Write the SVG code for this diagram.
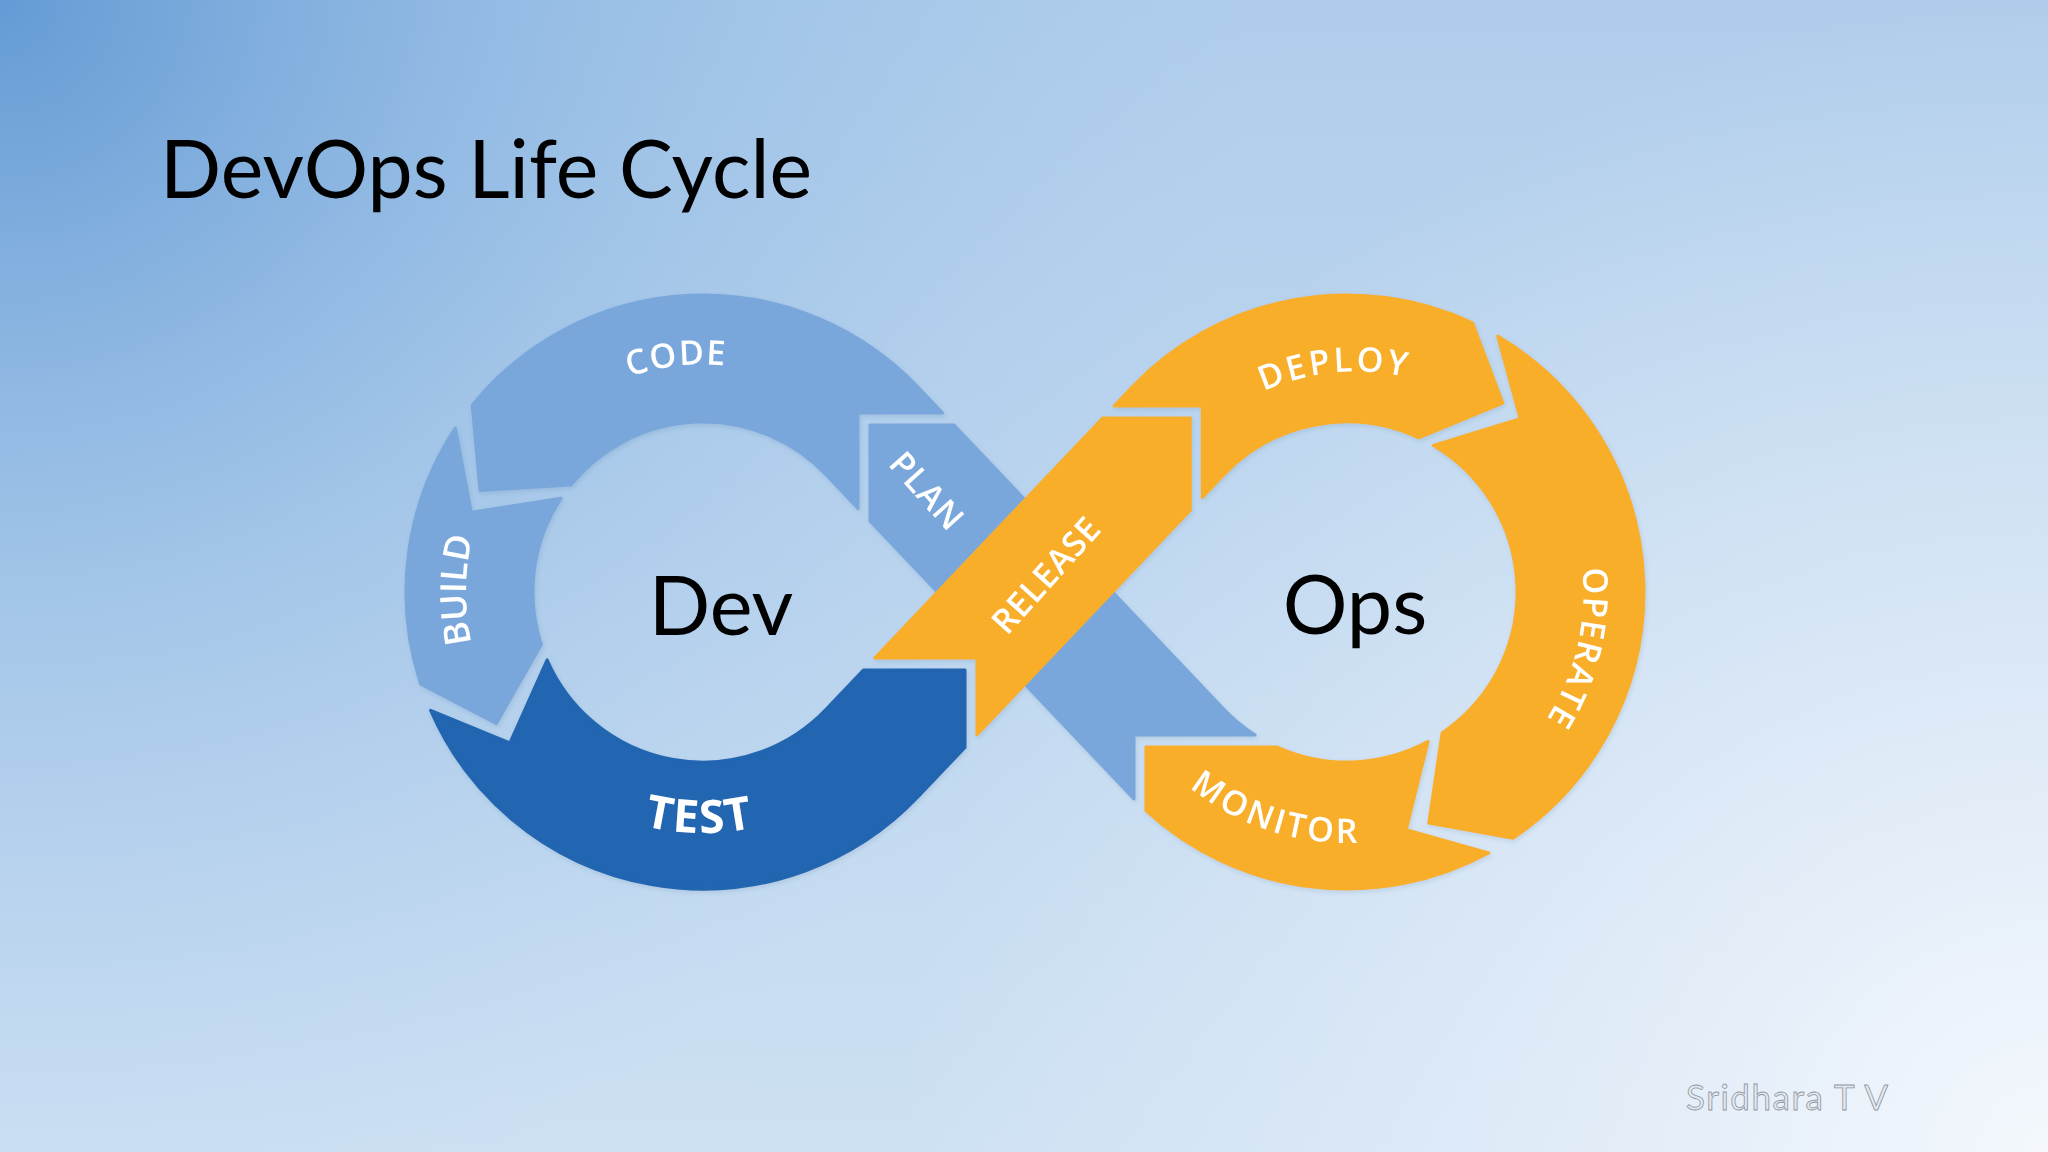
<svg xmlns="http://www.w3.org/2000/svg" xmlns:xlink="http://www.w3.org/1999/xlink" width="2048" height="1152" viewBox="0 0 2048 1152">
  <defs>
    <linearGradient id="bgBase" gradientUnits="userSpaceOnUse" x1="0" y1="0" x2="0" y2="1152">
      <stop offset="0" stop-color="#afcdeb"/>
      <stop offset="1" stop-color="#cde0f3"/>
    </linearGradient>
    <radialGradient id="bgDark" gradientUnits="userSpaceOnUse" cx="0" cy="0" r="1250">
      <stop offset="0" stop-color="#5c95d2" stop-opacity="0.9"/>
      <stop offset="0.5" stop-color="#7eaedf" stop-opacity="0.4"/>
      <stop offset="1" stop-color="#9cc2e8" stop-opacity="0"/>
    </radialGradient>
    <radialGradient id="bgLight" gradientUnits="userSpaceOnUse" cx="2048" cy="1152" r="1150">
      <stop offset="0" stop-color="#f6f9fd" stop-opacity="0.95"/>
      <stop offset="0.5" stop-color="#eef4fb" stop-opacity="0.5"/>
      <stop offset="1" stop-color="#eef4fb" stop-opacity="0"/>
    </radialGradient>
    <filter id="shadow" x="-10%" y="-10%" width="120%" height="120%">
      <feDropShadow dx="1" dy="2" stdDeviation="2" flood-color="#2f5680" flood-opacity="0.15"/>
    </filter>
    <path id="codePath" d="M 538.0 435.4 A 227.5 227.5 0 0 1 828.6 402.3"/>
    <path id="buildPath" d="M 520.1 742.8 A 237 237 0 0 1 522.8 438.1"/>
    <path id="testPath" d="M 545.3 774.5 A 241 241 0 0 0 855.2 778.8"/>
    <path id="deployPath" d="M 1193.6 440.3 A 227.5 227.5 0 0 1 1486.1 412.0"/>
    <path id="operatePath" d="M 1558.7 486.5 A 236.5 236.5 0 0 1 1487.7 782.1"/>
    <path id="monitorPath" d="M 1134.3 725.3 A 251 251 0 0 0 1441.4 824.6"/>
  </defs>
  <style>
    .light { fill: #7aa7db; stroke: #7aa7db; stroke-width: 3; stroke-linejoin: round; }
    .dark { fill: #2365b0; stroke: #2365b0; stroke-width: 3; stroke-linejoin: round; }
    .orange { fill: #f9ae2b; stroke: #f9ae2b; stroke-width: 3; stroke-linejoin: round; }
    .lbl { font-family: "Open Sans", "Liberation Sans", sans-serif; font-size: 34px; font-weight: 600; fill: #ffffff; }
    .lbl.build { font-size: 36px; }
    .lbl.testlbl { font-size: 46px; font-weight: 700; }
    .big { font-family: Lato, "Liberation Sans", sans-serif; font-size: 81px; fill: #000000; }
  </style>

  <rect x="0" y="0" width="2048" height="1152" fill="url(#bgBase)"/>
  <rect x="0" y="0" width="2048" height="1152" fill="url(#bgDark)"/>
  <rect x="0" y="0" width="2048" height="1152" fill="url(#bgLight)"/>

  <text id="title" x="160" y="198" font-family="Lato, 'Liberation Sans', sans-serif" font-size="82" fill="#000000" textLength="652" lengthAdjust="spacingAndGlyphs">DevOps Life Cycle</text>

  <g id="segments" filter="url(#shadow)">
    <g id="plan">
      <path class="light" d="M 870 425 L 954 425 L 1223.7 709.1 A 170 170 0 0 0 1255.1 735 L 1134 735 L 1134 799 L 1131.6 796.5 L 870 521 Z"/>
      <text class="lbl" transform="translate(927 491) rotate(48)" x="0" y="12" text-anchor="middle" letter-spacing="1">PLAN</text>
    </g>
    <g id="code">
      <path class="light" d="M 858 413 L 942.6 413 L 918.4 387.5 A 297 297 0 0 0 472.2 405.1 L 480.0 490.4 L 570.9 485.0 A 170 170 0 0 1 826.3 474.9 L 858 508.4 Z"/>
      <text class="lbl" letter-spacing="1.5"><textPath href="#codePath" xlink:href="#codePath" startOffset="50%" text-anchor="middle">CODE</textPath></text>
    </g>
    <g id="build">
      <path class="light" d="M 455.3 428.1 A 297 297 0 0 0 420.5 683.8 L 496.4 723.6 L 541.3 644.5 A 170 170 0 0 1 561.2 498.2 L 471.3 512.2 Z"/>
      <text class="lbl build"><textPath href="#buildPath" xlink:href="#buildPath" startOffset="50%" text-anchor="middle">BUILD</textPath></text>
    </g>
    <g id="test">
      <path class="dark" d="M 430.6 710.4 A 297 297 0 0 0 918.4 796.5 L 965 747.4 L 965 670 L 863.4 670 L 826.3 709.1 A 170 170 0 0 1 547.1 659.8 L 509.9 742.8 Z"/>
      <text class="lbl testlbl" letter-spacing="2"><textPath href="#testPath" xlink:href="#testPath" startOffset="50%" text-anchor="middle">TEST</textPath></text>
    </g>
    <g id="release">
      <path class="orange" d="M 874.8 658 L 977 658 L 977 734.8 L 1190.3 510.1 L 1190.3 418 L 1102.7 418 Z"/>
      <text class="lbl" transform="translate(1046 575) rotate(-48)" x="0" y="12" text-anchor="middle" letter-spacing="0.7">RELEASE</text>
    </g>
    <g id="deploy">
      <path class="orange" d="M 1202.3 406 L 1114.1 406 L 1131.6 387.5 A 297 297 0 0 1 1472.5 322.8 L 1502.8 403.0 L 1418.8 437.9 A 170 170 0 0 0 1223.7 474.9 L 1202.3 497.5 Z"/>
      <text class="lbl" letter-spacing="3"><textPath href="#deployPath" xlink:href="#deployPath" startOffset="50%" text-anchor="middle">DEPLOY</textPath></text>
    </g>
    <g id="operate">
      <path class="orange" d="M 1497.7 336.1 A 297 297 0 0 1 1513.1 838.2 L 1428.8 822.9 L 1442.1 732.9 A 170 170 0 0 0 1433.3 445.5 L 1520.2 418.8 Z"/>
      <text class="lbl" letter-spacing="1.5"><textPath href="#operatePath" xlink:href="#operatePath" startOffset="50%" text-anchor="middle">OPERATE</textPath></text>
    </g>
    <g id="monitor">
      <path class="orange" d="M 1146 747 L 1277.2 747 A 170 170 0 0 0 1428.1 741.4 L 1406.3 829.7 L 1488.7 853.0 A 297 297 0 0 1 1146 810.7 Z"/>
      <text class="lbl" letter-spacing="3"><textPath href="#monitorPath" xlink:href="#monitorPath" startOffset="50%" text-anchor="middle">MONITOR</textPath></text>
    </g>
  </g>

  <g id="dev"><text class="big" x="721" y="635" text-anchor="middle">Dev</text></g>
  <g id="ops"><text class="big" x="1355" y="634" text-anchor="middle">Ops</text></g>

  <text id="author" x="1686" y="1110" font-family="Lato, 'Liberation Sans', sans-serif" font-size="35" fill="#e3e9f1" stroke="#8f959d" stroke-width="0.8" textLength="202" lengthAdjust="spacing">Sridhara T V</text>
</svg>
